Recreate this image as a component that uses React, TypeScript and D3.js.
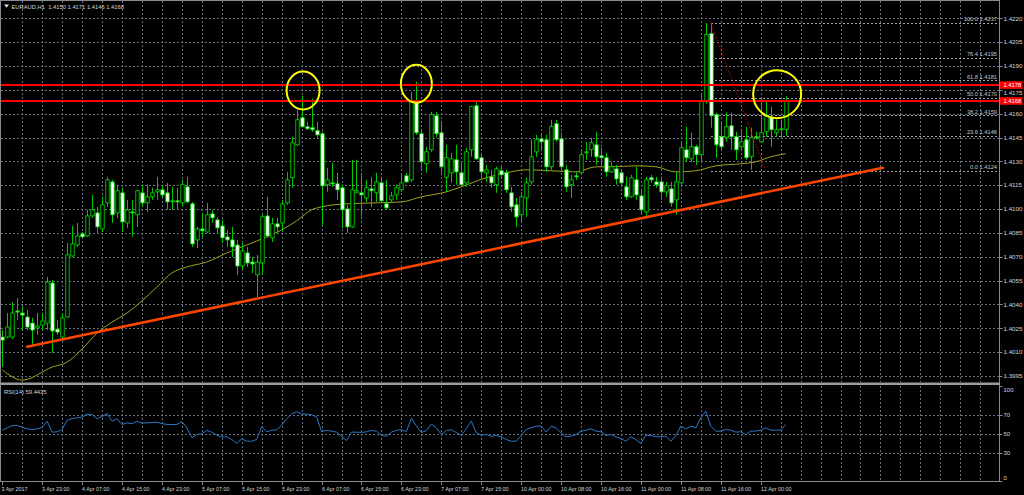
import * as d3 from "d3";

// EURAUD H1, one value per bar, 3 Apr 15:00 -> 12 Apr 05:00
const open = [
  1.40195, 1.40195, 1.40195, 1.40359, 1.40346, 1.40321, 1.40283, 1.40252, 1.4027, 1.40283,
  1.40535, 1.40245, 1.40195, 1.40321, 1.40705, 1.40774, 1.40844, 1.40831, 1.40957, 1.40976,
  1.40875, 1.41039, 1.41171, 1.40976, 1.41102, 1.40913, 1.40982, 1.40964, 1.41102, 1.41039,
  1.41077, 1.41108, 1.41121, 1.41102, 1.41045, 1.41052, 1.41039, 1.4114, 1.41033, 1.40806,
  1.40875, 1.40856, 1.4097, 1.40932, 1.40894, 1.40825, 1.40806, 1.40774, 1.40642, 1.40724,
  1.40667, 1.40586, 1.40661, 1.40957, 1.40819, 1.40907, 1.40913, 1.41039, 1.41197, 1.41404,
  1.41575, 1.41518, 1.41512, 1.41493, 1.41474, 1.41153, 1.41165, 1.41159, 1.41134, 1.41001,
  1.40888, 1.41102, 1.41102, 1.4107, 1.41127, 1.41102, 1.41165, 1.41033, 1.41058, 1.41089,
  1.41121, 1.41209, 1.41184, 1.41669, 1.41474, 1.41285, 1.41373, 1.41587, 1.4148, 1.412,
  1.41228, 1.4131, 1.41228, 1.41165, 1.41373, 1.4165, 1.41323, 1.41228, 1.41203, 1.41153,
  1.41241, 1.41228, 1.41102, 1.41027, 1.40964, 1.4107, 1.41171, 1.4136, 1.41442, 1.41436,
  1.41266, 1.41537, 1.41442, 1.41247, 1.41153, 1.41209, 1.41228, 1.41354, 1.41373, 1.41404,
  1.41335, 1.41323, 1.41234, 1.41253, 1.41228, 1.4114, 1.41077, 1.41184, 1.41083, 1.40982,
  1.41197, 1.41171, 1.41171, 1.41108, 1.41127, 1.41058, 1.41165, 1.41373, 1.41316, 1.41392,
  1.41342, 1.41675, 1.42104, 1.41594, 1.41455, 1.41449, 1.41524, 1.41455, 1.41392, 1.41436,
  1.41329, 1.41455, 1.41423, 1.41486, 1.41575, 1.4148, 1.41499, 1.415,
];
const high = [
  1.40239, 1.40346, 1.40415, 1.40441, 1.40384, 1.40365, 1.40315, 1.40346, 1.40346, 1.40573,
  1.40554, 1.40302, 1.40346, 1.40787, 1.40894, 1.40913, 1.40856, 1.40995, 1.41089, 1.41014,
  1.41077, 1.41203, 1.41184, 1.41153, 1.41134, 1.41058, 1.41058, 1.41121, 1.41153, 1.41153,
  1.41134, 1.41203, 1.41146, 1.41165, 1.4114, 1.41134, 1.41184, 1.41203, 1.41045, 1.40888,
  1.40976, 1.41039, 1.40995, 1.40951, 1.40932, 1.40869, 1.40888, 1.40806, 1.40787, 1.40762,
  1.40699, 1.40712, 1.40964, 1.41077, 1.40945, 1.40945, 1.41058, 1.41234, 1.41455, 1.41625,
  1.41713, 1.41549, 1.41694, 1.41549, 1.41486, 1.4126, 1.41291, 1.41228, 1.41153, 1.41027,
  1.4131, 1.4131, 1.41216, 1.41184, 1.41203, 1.41228, 1.41203, 1.41184, 1.41108, 1.41153,
  1.41216, 1.41228, 1.41738, 1.41801, 1.41499, 1.41392, 1.41612, 1.41612, 1.41543, 1.41404,
  1.41354, 1.41404, 1.41291, 1.41386, 1.4165, 1.41675, 1.41342, 1.41278, 1.41247, 1.41266,
  1.41266, 1.41247, 1.4114, 1.4107, 1.41108, 1.41197, 1.41436, 1.41467, 1.41467, 1.41467,
  1.41562, 1.41562, 1.4148, 1.41278, 1.41216, 1.41234, 1.41373, 1.41423, 1.41449, 1.41486,
  1.41386, 1.41354, 1.41297, 1.41278, 1.41247, 1.41203, 1.41216, 1.41266, 1.41121, 1.41203,
  1.41216, 1.41203, 1.41203, 1.41171, 1.41171, 1.41234, 1.41417, 1.41518, 1.4148, 1.41404,
  1.41719, 1.4217, 1.4217, 1.41606, 1.41543, 1.41606, 1.41606, 1.41486, 1.41499, 1.41518,
  1.41512, 1.41486, 1.41701, 1.41675, 1.41644, 1.41562, 1.41562, 1.4171,
];
const low = [
  1.40006, 1.40189, 1.40182, 1.40302, 1.40239, 1.40239, 1.40144, 1.40208, 1.40239, 1.40239,
  1.40094, 1.40208, 1.40189, 1.40315, 1.40699, 1.40762, 1.40819, 1.40825, 1.40945, 1.4085,
  1.40856, 1.41014, 1.40913, 1.40945, 1.40856, 1.40882, 1.40825, 1.40888, 1.41014, 1.40982,
  1.41058, 1.41058, 1.4107, 1.40995, 1.40995, 1.40995, 1.41014, 1.41039, 1.40762, 1.40756,
  1.40825, 1.4085, 1.40913, 1.4085, 1.40787, 1.40762, 1.40699, 1.40586, 1.40617, 1.40636,
  1.40598, 1.40447, 1.40586, 1.40819, 1.40793, 1.4085, 1.40856, 1.41027, 1.41134, 1.41398,
  1.41512, 1.41499, 1.41486, 1.41449, 1.409, 1.41108, 1.4114, 1.41058, 1.40882, 1.4085,
  1.40882, 1.41102, 1.40951, 1.41045, 1.41014, 1.41045, 1.41039, 1.40995, 1.41045, 1.41058,
  1.41108, 1.41165, 1.41171, 1.41467, 1.41247, 1.41228, 1.4136, 1.41449, 1.41228, 1.41108,
  1.41165, 1.41153, 1.4114, 1.4114, 1.41329, 1.4131, 1.41203, 1.41171, 1.41134, 1.41102,
  1.41197, 1.41102, 1.40982, 1.40888, 1.40913, 1.40951, 1.41153, 1.41329, 1.41373, 1.41234,
  1.41247, 1.41423, 1.41234, 1.41108, 1.4107, 1.41184, 1.41216, 1.4131, 1.41329, 1.41278,
  1.41266, 1.41203, 1.41228, 1.41153, 1.4114, 1.41058, 1.4107, 1.41058, 1.40976, 1.40951,
  1.41165, 1.41134, 1.41058, 1.41077, 1.41014, 1.40964, 1.41153, 1.41297, 1.41297, 1.41278,
  1.41297, 1.41663, 1.41512, 1.41323, 1.41373, 1.41423, 1.41373, 1.4131, 1.41373, 1.4131,
  1.41247, 1.41436, 1.41417, 1.41455, 1.41392, 1.41455, 1.41449, 1.4146,
];
const close = [
  1.40176, 1.40258, 1.40346, 1.40352, 1.40333, 1.40258, 1.40239, 1.40264, 1.40296, 1.40541,
  1.40233, 1.40226, 1.40315, 1.40712, 1.40781, 1.40831, 1.40825, 1.40957, 1.40995, 1.40888,
  1.41027, 1.41184, 1.40964, 1.41115, 1.40919, 1.40995, 1.40976, 1.41115, 1.41039, 1.41077,
  1.41102, 1.41121, 1.41089, 1.41045, 1.41052, 1.41045, 1.41153, 1.41045, 1.40781, 1.40875,
  1.40863, 1.40964, 1.40945, 1.40882, 1.40819, 1.40806, 1.40762, 1.40642, 1.40737, 1.40661,
  1.40655, 1.40667, 1.40951, 1.40831, 1.40907, 1.40888, 1.41033, 1.41184, 1.41417, 1.41562,
  1.41518, 1.41505, 1.41499, 1.41467, 1.41146, 1.41184, 1.41159, 1.41121, 1.40995, 1.40888,
  1.41121, 1.41115, 1.41089, 1.41134, 1.41115, 1.41171, 1.41052, 1.41008, 1.41083, 1.41134,
  1.41165, 1.41171, 1.41675, 1.4148, 1.41297, 1.4136, 1.41594, 1.41474, 1.41266, 1.41323,
  1.41316, 1.41234, 1.41153, 1.4136, 1.41644, 1.41316, 1.41234, 1.41247, 1.41165, 1.41253,
  1.41216, 1.41121, 1.41014, 1.40951, 1.41077, 1.41165, 1.41329, 1.41436, 1.41423, 1.41266,
  1.41518, 1.41436, 1.41266, 1.4114, 1.41184, 1.41203, 1.41342, 1.4136, 1.41417, 1.41329,
  1.41323, 1.41234, 1.41266, 1.4119, 1.41165, 1.41077, 1.41197, 1.41089, 1.40995, 1.41184,
  1.41184, 1.41153, 1.41108, 1.41146, 1.41039, 1.41171, 1.41386, 1.41323, 1.41392, 1.41342,
  1.41675, 1.42098, 1.41587, 1.41404, 1.41392, 1.41518, 1.41455, 1.41373, 1.41423, 1.41323,
  1.41449, 1.41449, 1.4148, 1.41581, 1.41499, 1.41499, 1.41505, 1.4168,
];

const rsi14 = [
  53.5, 56, 58.4, 58.4, 56.6, 54.9, 54.2, 54.9, 56.3, 63,
  51.4, 51.8, 54.2, 64, 65.8, 66.5, 67.2, 70.3, 70, 65.5,
  67.9, 71.1, 63, 65.5, 59.5, 61.2, 60.2, 63, 60.9, 61.2,
  61.6, 61.9, 60.5, 59.5, 59.5, 59.5, 62.6, 56, 45.5, 49,
  49.7, 53.2, 51.4, 48.2, 46.5, 46.5, 43.7, 39.5, 44.4, 41.9,
  41.9, 43.7, 57, 51.8, 53.5, 53.8, 58.8, 65.5, 70.7, 72.8,
  70.7, 70.4, 69.7, 67.5, 52.1, 53.2, 52.5, 51.4, 47.2, 42.6,
  51.4, 51.4, 51.1, 51.8, 53.2, 52.5, 48.2, 47.2, 51.4, 53.2,
  54, 52, 66, 58, 51, 53, 60, 56, 49, 53,
  54, 51, 48, 55, 63, 51, 48, 49, 47, 47.9,
  46.5, 43.7, 41.9, 41.9, 47.9, 54.2, 56, 57.7, 57.7, 51.4,
  57.7, 56, 50.7, 46.5, 47.2, 48.9, 52.5, 53.5, 54.9, 52.5,
  51.8, 47.9, 48.9, 46.5, 44.7, 41.9, 46.5, 43.7, 39.5, 48.2,
  47.9, 46.5, 46.5, 47.2, 41.9, 47.9, 57.7, 54.9, 57.7, 56,
  66.5, 73.5, 57.7, 52.5, 52.5, 54.2, 53.5, 51.4, 51.8, 48.9,
  52.5, 52.5, 53.5, 56, 53.5, 53.5, 53.5, 59.4435,
];

// moving average, read at a subset of bars
const maBars = [0, 4, 10, 13, 16, 19, 22, 25, 28, 31, 34, 37, 41, 45, 49, 53, 56, 59, 62, 64, 69, 75, 80, 84, 89, 92, 97, 101, 105, 110, 115, 119, 122, 127, 131, 135, 139, 143, 148, 151, 154, 157];
const maPrices = [
  1.3999, 1.39924, 1.40006, 1.40037, 1.40119, 1.4022, 1.40289, 1.40346, 1.40422, 1.4051,
  1.40598, 1.40636, 1.40667, 1.40724, 1.40774, 1.40825, 1.40869, 1.40926, 1.40995, 1.41014,
  1.41033, 1.41039, 1.41045, 1.41077, 1.41108, 1.4114, 1.41197, 1.41228, 1.41247, 1.41241,
  1.41234, 1.41266, 1.41266, 1.41272, 1.41266, 1.41234, 1.41241, 1.41272, 1.41285, 1.41297,
  1.41329, 1.41348,
];

const priceTicks = [1.422, 1.4205, 1.419, 1.4175, 1.416, 1.4145, 1.413, 1.4115, 1.41, 1.4085, 1.407, 1.4055, 1.404, 1.4025, 1.401, 1.3995];
const rsiTicks = [100, 70, 50, 30, 0];
const rsiLevels = [70, 50, 30];
const timeLabels = [
  "3 Apr 2017", "3 Apr 23:00", "4 Apr 07:00", "4 Apr 15:00", "4 Apr 23:00",
  "5 Apr 07:00", "5 Apr 15:00", "5 Apr 23:00", "6 Apr 07:00", "6 Apr 15:00",
  "6 Apr 23:00", "7 Apr 07:00", "7 Apr 15:00", "10 Apr 00:00", "10 Apr 08:00",
  "10 Apr 16:00", "11 Apr 00:00", "11 Apr 08:00", "11 Apr 16:00", "12 Apr 00:00",
];
const levelPrices = [1.4178, 1.4168];
const fibLevels = [100, 76.4, 61.8, 50, 38.2, 23.6, 0];
const fibPrices = [1.4217, 1.4195, 1.4181, 1.417, 1.4159, 1.4146, 1.4124];
const fibBars = [142, 153];
const trendBars = [5, 176.5];
const trendPrices = [1.40134, 1.4126];
const circleBars = [60.3, 83, 155.3];
const circlePrices = [1.41746, 1.41788, 1.41723];
const header = "EURAUD,H1  1.4150 1.4171 1.4146 1.4168";

const W = 1024;
const H = 495;
const RIGHT = 999.5;
const MAIN_BOTTOM = 381.5;
const RSI_TOP = 385.5;
const RSI_BOTTOM = 481.5;
const FONT = "'Liberation Sans', Arial, sans-serif";

const gridColor = "#66707a";
const textColor = "#d6d6d6";
const frameColor = "#8a8a8a";

export default function App() {
  const x = d3.scaleLinear().domain([0, 200]).range([2.2, 1000.2]);
  const y = d3.scaleLinear().domain([1.3995, 1.422]).range([376, 18.3]);
  const ry = d3.scaleLinear().domain([0, 100]).range([481, 386]);

  const gridBars = d3.range(4, 200, 4).filter((b) => x(b) < RIGHT - 1);

  const maLine = d3
    .line<number>()
    .x((_, i) => x(maBars[i]))
    .y((d) => y(d))
    .curve(d3.curveMonotoneX);

  const rsiLine = d3
    .line<number>()
    .x((_, i) => x(i))
    .y((d) => ry(d));

  const circleR = [
    [16.5, 19],
    [15.5, 19],
    [24, 24],
  ];

  // axis price labels that sit under a red level tag are nudged off it
  const labelY = (p: number) => {
    const base = y(p) + 2.2;
    const near = levelPrices.find((lp) => Math.abs(y(lp) - y(p)) < 7);
    if (near === undefined) return base;
    return y(p) > y(near) ? y(near) + 9.6 : y(near) - 4.2;
  };

  return (
    <div style={{ position: "fixed", left: 0, top: 0, width: W, height: H, background: "#000" }}>
      <svg width={W} height={H} style={{ display: "block" }} fontFamily={FONT}>
        <defs>
          <clipPath id="main-clip">
            <rect x={1} y={1} width={RIGHT - 1} height={MAIN_BOTTOM - 1} />
          </clipPath>
          <clipPath id="rsi-clip">
            <rect x={1} y={RSI_TOP} width={RIGHT - 1} height={RSI_BOTTOM - RSI_TOP} />
          </clipPath>
        </defs>
        <rect width={W} height={H} fill="#000" />

        {/* grid */}
        <g stroke={gridColor} strokeDasharray="2,2" strokeWidth={1} shapeRendering="crispEdges">
          {gridBars.map((b) => (
            <line key={"vm" + b} x1={Math.round(x(b)) + 0.5} x2={Math.round(x(b)) + 0.5} y1={1} y2={MAIN_BOTTOM} />
          ))}
          {gridBars.map((b) => (
            <line key={"vr" + b} x1={Math.round(x(b)) + 0.5} x2={Math.round(x(b)) + 0.5} y1={RSI_TOP} y2={RSI_BOTTOM} />
          ))}
          {priceTicks.map((p) => (
            <line key={"h" + p} x1={1} x2={RIGHT} y1={Math.round(y(p)) + 0.5} y2={Math.round(y(p)) + 0.5} />
          ))}
          {rsiLevels.map((r) => (
            <line key={"rl" + r} x1={1} x2={RIGHT} y1={Math.round(ry(r)) + 0.5} y2={Math.round(ry(r)) + 0.5} />
          ))}
        </g>

        <g clipPath="url(#main-clip)">
          {/* fibonacci levels */}
          <g stroke="#a4a4a4" strokeDasharray="2,2" shapeRendering="crispEdges">
            {fibPrices.map((p) => (
              <line key={"f" + p} x1={x(fibBars[0])} x2={RIGHT} y1={Math.round(y(p)) + 0.5} y2={Math.round(y(p)) + 0.5} />
            ))}
          </g>
          {fibPrices.map((p, k) => (
            <text key={"ft" + p} x={997} y={y(p) - 1.6} fontSize={5.7} fill="#c8c8c8" textAnchor="end">
              {fibLevels[k].toFixed(1) + " " + p.toFixed(4)}
            </text>
          ))}

          {/* moving average */}
          <path d={maLine(maPrices) ?? ""} fill="none" stroke="#a2a21c" strokeWidth={1} />

          {/* candles */}
          {open.map((o, i) => {
            const c = close[i];
            const cx = Math.round(x(i)) + 0.5;
            const top = Math.min(y(o), y(c));
            const h = Math.max(1, Math.abs(y(o) - y(c)));
            const bull = c >= o;
            return (
              <g key={"c" + i}>
                <line x1={cx} x2={cx} y1={y(high[i])} y2={y(low[i])} stroke="#00c800" strokeWidth={1} />
                <rect
                  x={cx - 1.7}
                  y={top}
                  width={3.4}
                  height={h}
                  fill={bull ? "#000" : "#fff"}
                  stroke="#00e400"
                  strokeWidth={0.8}
                />
              </g>
            );
          })}

          {/* horizontal levels */}
          {levelPrices.map((p) => (
            <line key={"lv" + p} x1={1} x2={RIGHT} y1={y(p)} y2={y(p)} stroke="#ff0000" strokeWidth={2} />
          ))}

          {/* trend line */}
          <line
            x1={x(trendBars[0])}
            y1={y(trendPrices[0])}
            x2={x(trendBars[1])}
            y2={y(trendPrices[1])}
            stroke="#ff4500"
            strokeWidth={2.6}
            strokeLinecap="round"
          />

          {/* fibo base line */}
          <line
            x1={x(fibBars[0])}
            y1={y(fibPrices[0])}
            x2={x(fibBars[1])}
            y2={y(fibPrices[fibPrices.length - 1])}
            stroke="#c80000"
            strokeDasharray="1.5,1.5"
            strokeWidth={1}
          />

          {/* marked highs */}
          {circleBars.map((b, k) => (
            <ellipse
              key={"e" + k}
              cx={x(b)}
              cy={y(circlePrices[k])}
              rx={circleR[k][0]}
              ry={circleR[k][1]}
              fill="none"
              stroke="#ffff00"
              strokeWidth={2}
            />
          ))}
        </g>

        {/* RSI */}
        <g clipPath="url(#rsi-clip)">
          <path d={rsiLine(rsi14) ?? ""} fill="none" stroke="#2c76c6" strokeWidth={1} />
        </g>

        {/* frames */}
        <g stroke={frameColor} fill="none" shapeRendering="crispEdges">
          <line x1={0.5} x2={0.5} y1={0} y2={RSI_BOTTOM} />
          <line x1={0} x2={RIGHT} y1={0.5} y2={0.5} />
          <line x1={RIGHT} x2={RIGHT} y1={0} y2={RSI_BOTTOM} />
          <line x1={0} x2={RIGHT} y1={RSI_BOTTOM} y2={RSI_BOTTOM} />
        </g>
        <rect x={0} y={382.5} width={RIGHT + 0.5} height={2.5} fill="#9a9a9a" />

        {/* price axis */}
        {priceTicks.map((p) => (
          <g key={"pt" + p}>
            <line x1={RIGHT} x2={RIGHT + 3} y1={Math.round(y(p)) + 0.5} y2={Math.round(y(p)) + 0.5} stroke={frameColor} />
            <text x={1003.5} y={labelY(p)} fontSize={6.2} fill={textColor}>
              {p.toFixed(4)}
            </text>
          </g>
        ))}
        {levelPrices.map((p) => (
          <g key={"tag" + p}>
            <rect x={RIGHT + 0.5} y={y(p) - 3.8} width={22.5} height={7.6} fill="#ff0000" />
            <text x={1003.5} y={y(p) + 2} fontSize={5.8} fill="#ffffff">
              {p.toFixed(4)}
            </text>
          </g>
        ))}

        {/* RSI axis */}
        {rsiTicks.map((r) => {
          const ty = r === 100 ? 391.5 : r === 0 ? 480 : ry(r) + 2.2;
          return (
            <g key={"rt" + r}>
              <line x1={RIGHT} x2={RIGHT + 3} y1={Math.round(ry(r)) + 0.5} y2={Math.round(ry(r)) + 0.5} stroke={frameColor} />
              <text x={1003.5} y={ty} fontSize={6} fill={textColor}>
                {r}
              </text>
            </g>
          );
        })}

        {/* time axis */}
        {timeLabels.map((t, k) => {
          const tx = Math.round(x(k * 8)) + 0.5;
          return (
            <g key={"tl" + k}>
              <line x1={tx} x2={tx} y1={RSI_BOTTOM} y2={RSI_BOTTOM + 3.5} stroke={frameColor} />
              <text x={k === 0 ? 1.5 : tx - 0.5} y={490.5} fontSize={5.4} fill={textColor}>
                {t}
              </text>
            </g>
          );
        })}

        {/* headers */}
        <polygon points="4,4.5 9,4.5 6.5,7.8" fill="#e0e0e0" />
        <text x={11.5} y={8.7} fontSize={5.8} fill={textColor} style={{ whiteSpace: "pre" }}>
          {header}
        </text>
        <text x={4} y={393.5} fontSize={5.8} fill={textColor}>
          RSI(14) 59.4435
        </text>
      </svg>
    </div>
  );
}
